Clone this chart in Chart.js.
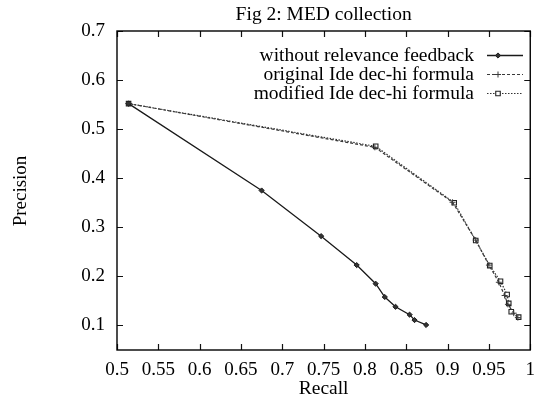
<!DOCTYPE html>
<html>
<head>
<meta charset="utf-8">
<script src="https://cdn.jsdelivr.net/npm/chart.js@4/dist/chart.umd.min.js"></script>
<style>
html,body{margin:0;padding:0;background:#fff;}
#c{display:block;}
</style>
</head>
<body>
<canvas id="c" width="544" height="405"></canvas>
<script>
const titleText = "Fig 2: MED collection";
const xTitle = "Recall";
const yTitle = "Precision";
const seriesNames = ["without relevance feedback", "original Ide dec-hi formula", "modified Ide dec-hi formula"];

const recallWithout = [0.514, 0.675, 0.747, 0.790, 0.813, 0.824, 0.837, 0.854, 0.860, 0.874];
const precisionWithout = [0.552, 0.375, 0.282, 0.223, 0.185, 0.158, 0.138, 0.122, 0.111, 0.101];

const recallOriginal = [0.514, 0.812, 0.906, 0.934, 0.950, 0.962, 0.969, 0.973, 0.980, 0.985];
const precisionOriginal = [0.552, 0.463, 0.351, 0.274, 0.223, 0.188, 0.161, 0.143, 0.125, 0.116];

const recallModified = [0.514, 0.813, 0.908, 0.934, 0.951, 0.964, 0.972, 0.974, 0.977, 0.986];
const precisionModified = [0.552, 0.465, 0.350, 0.273, 0.222, 0.190, 0.163, 0.145, 0.128, 0.117];

const xTicks = [0.5, 0.55, 0.6, 0.65, 0.7, 0.75, 0.8, 0.85, 0.9, 0.95, 1];
const yTicks = [0.1, 0.2, 0.3, 0.4, 0.5, 0.6, 0.7];

const FONT = "'Liberation Serif', 'DejaVu Serif', serif";

function pts(xs, ys) { return xs.map((x, i) => ({x: x, y: ys[i]})); }

const datasets = [
  {label: seriesNames[0], data: pts(recallWithout, precisionWithout), showLine: true,
   borderColor: '#1a1a1a', borderWidth: 1.3, pointStyle: 'rectRot', pointRadius: 2.6,
   pointBackgroundColor: '#333', pointBorderColor: '#1a1a1a', pointBorderWidth: 1, borderDash: []},
  {label: seriesNames[1], data: pts(recallOriginal, precisionOriginal), showLine: true,
   borderColor: '#3a3a3a', borderWidth: 1.2, pointStyle: 'cross', pointRadius: 3,
   pointBackgroundColor: '#3a3a3a', pointBorderColor: '#3a3a3a', pointBorderWidth: 1, borderDash: [3, 2]},
  {label: seriesNames[2], data: pts(recallModified, precisionModified), showLine: true,
   borderColor: '#333', borderWidth: 1.2, pointStyle: 'rect', pointRadius: 3.2,
   pointBackgroundColor: '#fff', pointBorderColor: '#222', pointBorderWidth: 1.1, borderDash: [1.5, 1.5]}
];

function fmt(v) { return String(parseFloat(v.toFixed(2))); }

const decor = {
  id: 'decor',
  afterDraw(chart) {
    const ctx = chart.ctx;
    const a = chart.chartArea;
    const xs = chart.scales.x, ys = chart.scales.y;
    ctx.save();
    ctx.strokeStyle = '#111';
    ctx.lineWidth = 1.2;
    const tl = 6;
    ctx.beginPath();
    xTicks.forEach(v => {
      const px = Math.round(xs.getPixelForValue(v)) + 0.5;
      ctx.moveTo(px, a.bottom); ctx.lineTo(px, a.bottom - tl);
      ctx.moveTo(px, a.top); ctx.lineTo(px, a.top + tl);
    });
    yTicks.forEach(v => {
      const py = Math.round(ys.getPixelForValue(v)) + 0.5;
      ctx.moveTo(a.left, py); ctx.lineTo(a.left + tl, py);
      ctx.moveTo(a.right, py); ctx.lineTo(a.right - tl, py);
    });
    ctx.stroke();
    ctx.lineWidth = 1.4;
    ctx.strokeStyle = '#000';
    ctx.strokeRect(a.left, a.top, a.right - a.left, a.bottom - a.top);
    ctx.fillStyle = '#000';
    ctx.font = "19.5px " + FONT;
    ctx.textAlign = 'center';
    ctx.textBaseline = 'alphabetic';
    ctx.fillText(titleText, (a.left + a.right) / 2, 20);
    ctx.font = "19.5px " + FONT;
    ctx.fillText(xTitle, (a.left + a.right) / 2, 394);
    ctx.save();
    ctx.translate(26, 191);
    ctx.rotate(-Math.PI / 2);
    ctx.textAlign = 'center';
    ctx.font = "19px " + FONT;
    ctx.fillText(yTitle, 0, 0);
    ctx.restore();
    ctx.font = "19.5px " + FONT;
    chart.data.datasets.forEach((ds, i) => {
      const y = 55 + i * 19;
      ctx.fillStyle = '#000';
      ctx.textAlign = 'right';
      ctx.textBaseline = 'middle';
      ctx.fillText(ds.label, 474, y + 1);
      ctx.save();
      ctx.strokeStyle = ds.borderColor;
      ctx.lineWidth = ds.borderWidth;
      ctx.setLineDash(ds.borderDash);
      ctx.beginPath();
      ctx.moveTo(487, y + 0.5); ctx.lineTo(523, y + 0.5);
      ctx.stroke();
      ctx.setLineDash([]);
      ctx.strokeStyle = ds.pointBorderColor;
      ctx.fillStyle = ds.pointBackgroundColor;
      ctx.lineWidth = ds.pointBorderWidth;
      Chart.helpers.drawPoint(ctx, {pointStyle: ds.pointStyle, radius: ds.pointRadius, rotation: 0, borderWidth: ds.pointBorderWidth}, 498, y + 0.5);
      ctx.restore();
    });
    ctx.restore();
  }
};

new Chart(document.getElementById('c'), {
  type: 'scatter',
  data: {datasets: datasets},
  options: {
    responsive: false,
    devicePixelRatio: 1,
    animation: false,
    events: [],
    layout: {padding: {left: 0, right: 6, top: 31, bottom: 0}},
    plugins: {legend: {display: false}, title: {display: false}, tooltip: {enabled: false}},
    scales: {
      x: {
        type: 'linear', min: 0.5, max: 1,
        afterBuildTicks: s => { s.ticks = xTicks.map(v => ({value: v})); },
        afterFit: s => { s.height = 55; },
        grid: {display: false, drawTicks: false},
        border: {display: false},
        ticks: {color: '#000', font: {family: FONT, size: 19}, padding: 9, maxRotation: 0, autoSkip: false,
                callback: v => fmt(v)}
      },
      y: {
        type: 'linear', min: 0.05, max: 0.7,
        afterBuildTicks: s => { s.ticks = yTicks.map(v => ({value: v})); },
        afterFit: s => { s.width = 117; },
        grid: {display: false, drawTicks: false},
        border: {display: false},
        ticks: {color: '#000', font: {family: FONT, size: 19}, padding: 12, autoSkip: false,
                callback: v => fmt(v)}
      }
    }
  },
  plugins: [decor]
});
</script>
</body>
</html>
